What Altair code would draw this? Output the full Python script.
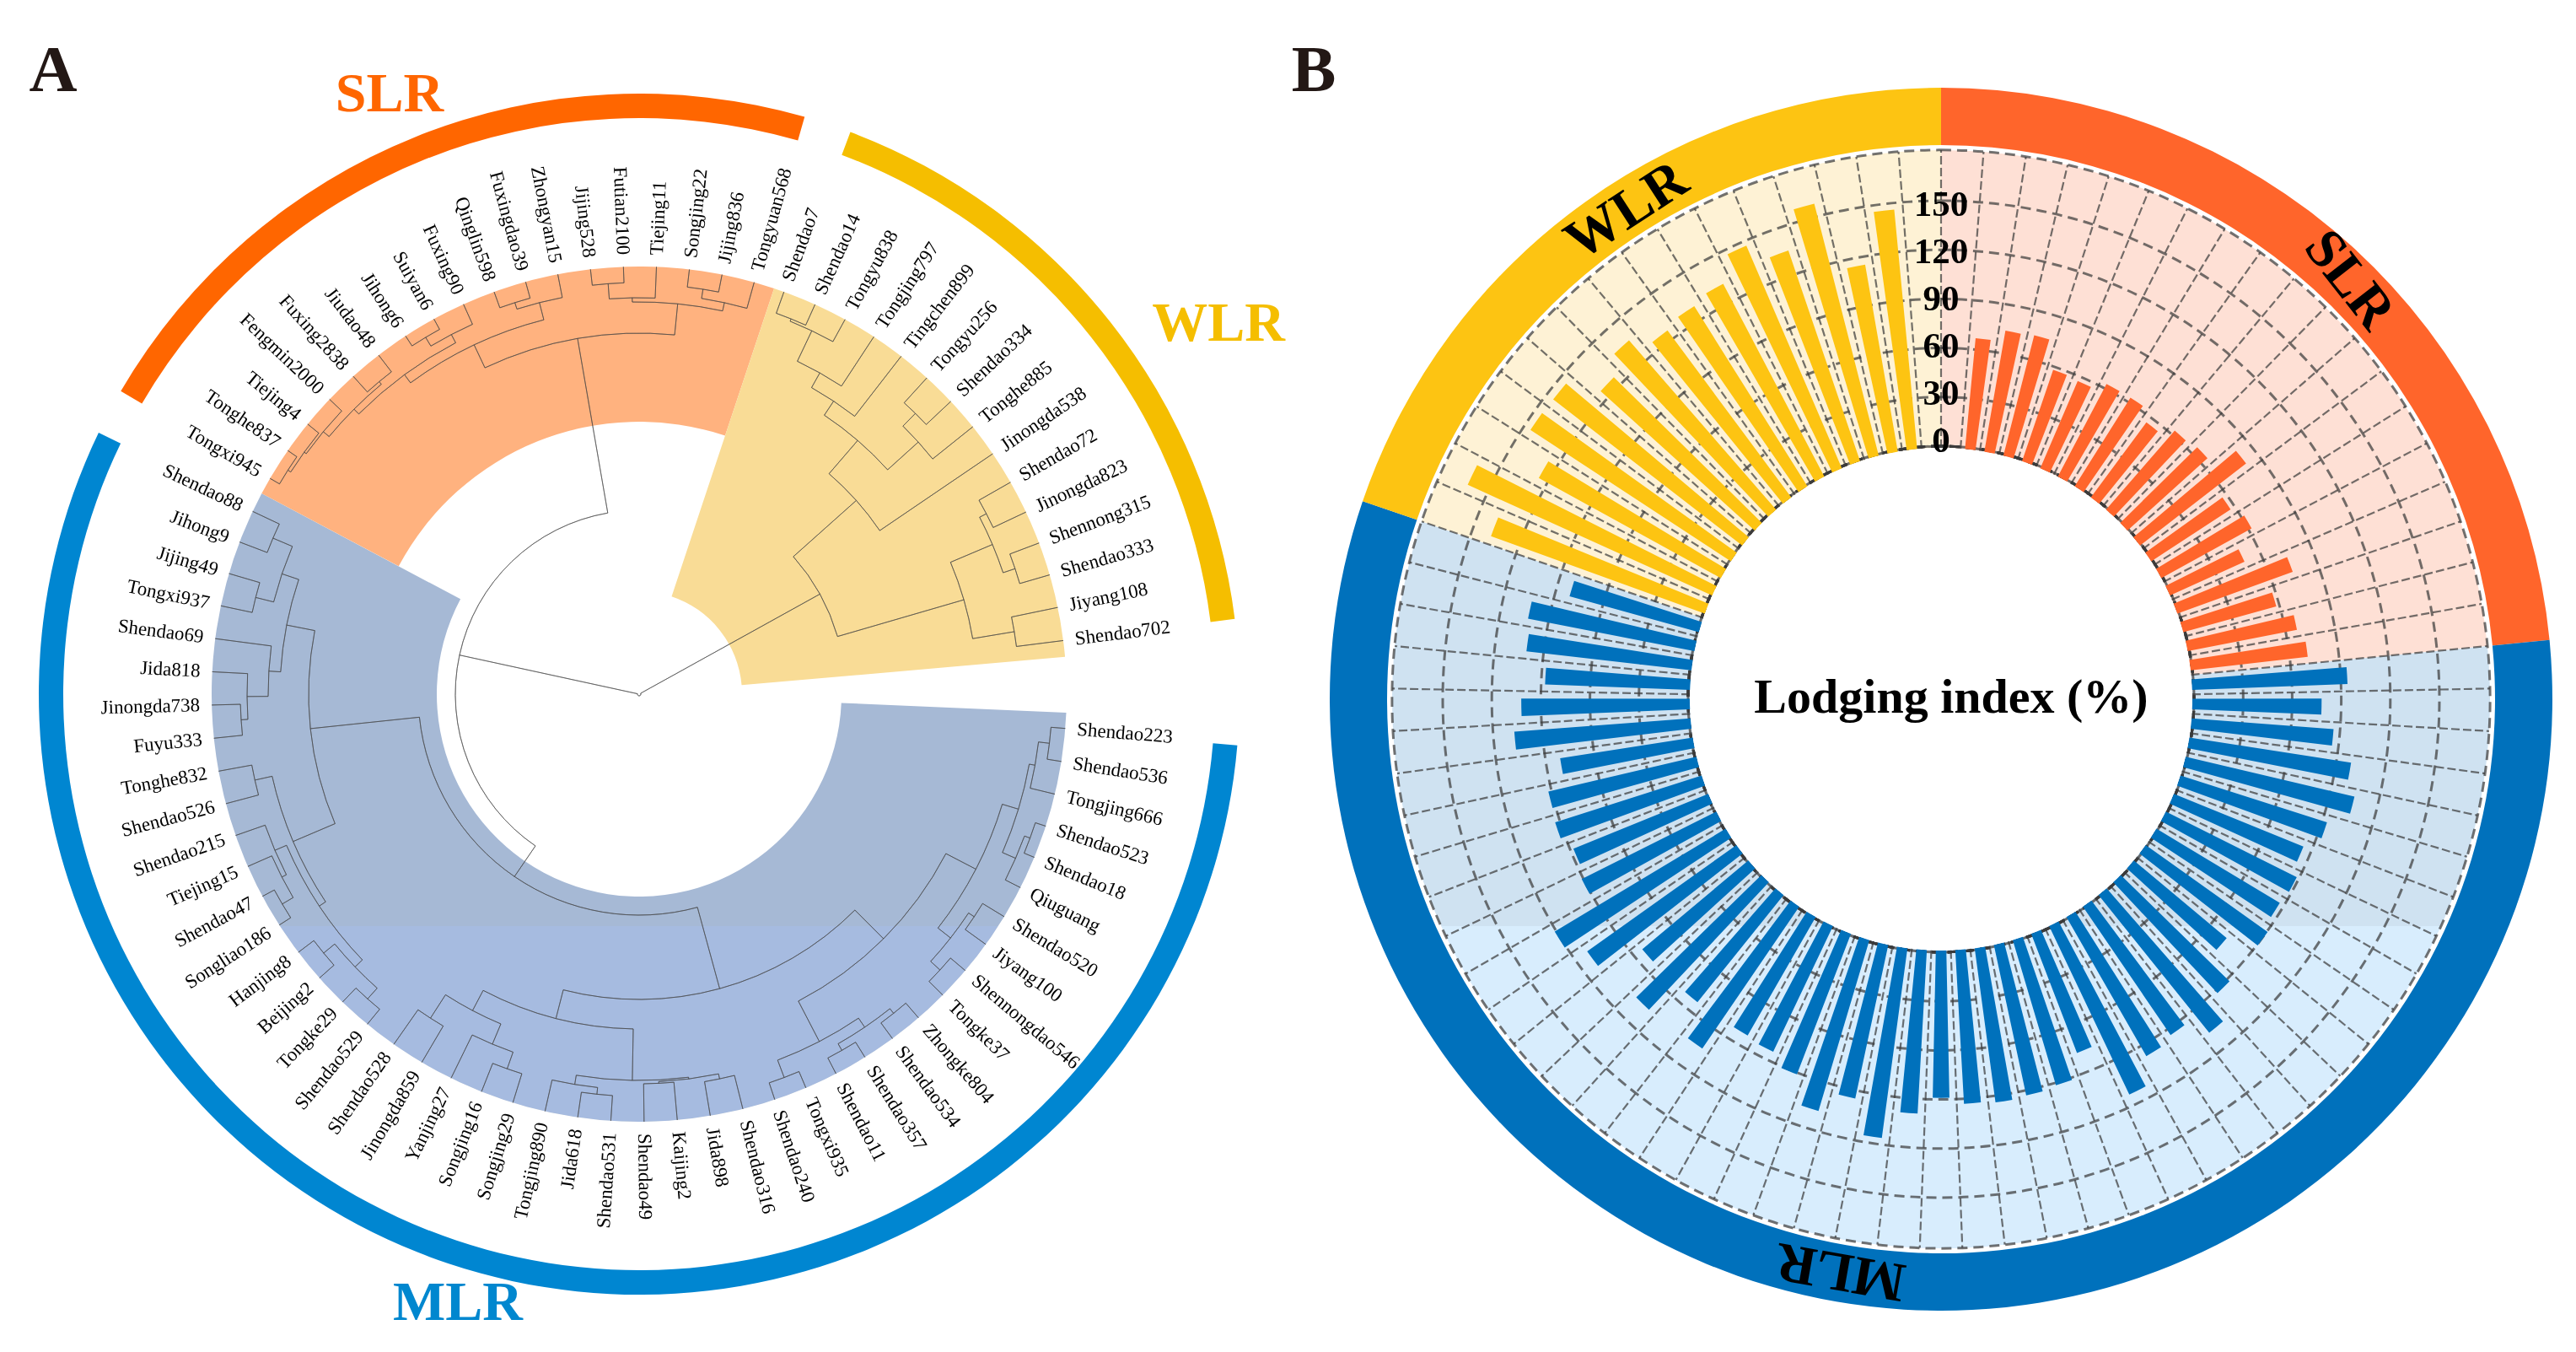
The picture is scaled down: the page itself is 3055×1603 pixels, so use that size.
import altair as alt
import pandas as pd
import math

# ---------- data ----------
WLR_names = ["Shendao7","Shendao14","Tongyu838","Tongjing797","Tingchen899","Tongyu256","Shendao334","Tonghe885","Jinongda538","Shendao72","Jinongda823","Shennong315","Shendao333","Jiyang108","Shendao702"]
MLR_names = ["Shendao223","Shendao536","Tongjing666","Shendao523","Shendao18","Qiuguang","Shendao520","Jiyang100","Shennongdao546","Tongke37","Zhongke804","Shendao534","Shendao357","Shendao11","Tongxi935","Shendao240","Shendao316","Jida898","Kaijing2","Shendao49","Shendao531","Jida618","Tongjing890","Songjing29","Songjing16","Yanjing27","Jinongda859","Shendao528","Shendao529","Tongke29","Beijing2","Hanjing8","Songliao186","Shendao47","Tiejing15","Shendao215","Shendao526","Tonghe832","Fuyu333","Jinongda738","Jida818","Shendao69","Tongxi937","Jijing49","Jihong9","Shendao88"]
SLR_names = ["Tongxi945","Tonghe837","Tiejing4","Fengmin2000","Fuxing2838","Jiudao48","Jihong6","Suiyan6","Fuxing90","Qinglin598","Fuxingdao39","Zhongyan15","Jijing528","Futian2100","Tiejing11","Songjing22","Jijing836","Tongyuan568"]

SLR_values = [67,74,75,58,57,63,63,56,63,65,81,57,62,49,74,58,67,71]
MLR_values = [94,78,86,99,105,93,84.5,88.5,87,90.5,73,92,107,94,97,113,77,91.5,93,94,93,89,99,116,95,108,91,84,82.5,104,83,106,83.5,111,121,91,88,93,92,81,107,102,87.6,100.5,102.6,81]
WLR_values = [138,163,126,145.5,145,126,136,126,129,132,147,135,158,115,146]
tick_values = [0,30,60,90,120,150]
grid_values = [0,30,60,90,120,150,181]

# dendrogram: (node radius, children...), leaves are (group, index)
def n(r, *kids): return (r, kids)
def W(i): return ("W", i)
def M(i): return ("M", i)
def S(i): return ("S", i)

wlr_tree = n(245,
    n(345,
      n(397,
        n(417, n(437, n(477, n(480,W(0),W(1)), W(2)), W(3)), W(4)),
        n(446, n(467,W(5),W(6)), W(7))),
      W(8)),
    n(401,
      n(455, n(464,W(9),W(10)), n(470,W(11),W(12))),
      n(451,W(13),W(14))))

slr_tree = n(428,
    n(458,
      n(470,
        n(478, n(487, n(490, n(494,S(0),S(1)), S(2)), S(3)), n(482,S(4),S(5))),
        n(481, n(493,S(6),S(7)), S(8))),
      n(479, n(487,S(9),S(10)), S(11))),
    n(465,
      n(470, n(488,S(12),S(13)), S(14)),
      n(475, n(486,S(15),S(16)), S(17))))

mlr_right = n(362,
    n(410,
      n(450,
        n(470, n(477, n(490,M(0),M(1)), M(2)), n(487, n(494,M(3),M(4)), M(5))),
        n(469, n(477,M(6),M(7)), n(484,M(8),M(9)))),
      n(464,
        n(477, n(484,M(10),M(11)), n(486,M(12),M(13))),
        n(486,M(14),M(15)))),
    n(397,
      n(458,
        n(460, n(466,M(16),M(17)), n(462,M(18),M(19))),
        n(469, n(477,M(20),M(21)), M(22))),
      n(424,
        n(450, n(471,M(23),M(24)), M(25)),
        n(457,M(26),M(27)))))

mlr_left = n(392,
    n(446,
      n(455,
        n(467, n(484,M(28),M(29)), n(484,M(30),M(31))),
        n(470, n(476, n(491,M(32),M(33)), M(34)), M(35))),
      n(467,M(36),M(37))),
    n(426,
      n(440, n(465, n(473,M(38),M(39)), M(40)), M(41)),
      n(447, n(469,M(42),M(43)), n(472,M(44),M(45)))))

tree = n(2, wlr_tree, n(218, n(262, mlr_right, mlr_left), slr_tree))

# ---------- layout (page pixels) ----------
W_PX, H_PX = 3039, 1587
ax, ay = 758, 823          # centre panel A
bx, by = 2302, 829         # centre panel B
TIP = 507
STEP = 360 / 81
THETA = alt.Scale(domain=[0, 360], range=[0, 6.283185307179586])
RAD_B = alt.Scale(domain=[0, 150], range=[300, 591], zero=False, nice=False)
SERIF = "Liberation Serif"

leaf_start = {"W": (19.8, 4.5), "M": (94.6, 4.46), "S": (300.3, 4.43)}
def leaf_angle(leaf):
    s, d = leaf_start[leaf[0]]
    return s + d * leaf[1]

segs = []
def walk(node):
    if isinstance(node[0], str):
        return leaf_angle(node), TIP
    r, kids = node
    res = [walk(k) for k in kids]
    angs = [a for a, _ in res]
    for a, cr in res:
        segs.append({"a1": a, "a2": a, "r1": r, "r2": cr})
    segs.append({"a1": min(angs), "a2": max(angs), "r1": r, "r2": r})
    return (min(angs) + max(angs)) / 2, r
walk(tree)
tree_df = pd.DataFrame(segs)

rows = []
for g, names in (("W", WLR_names), ("M", MLR_names), ("S", SLR_names)):
    for i, name in enumerate(names):
        a = leaf_angle((g, i))
        m = a % 360
        rows.append({"name": name, "a": a, "right": m < 180,
                     "rot": (m - 90) % 360 if m < 180 else (m + 90) % 360})
labels_df = pd.DataFrame(rows)

def arc_layer(df, cx, cy, **mark):
    return alt.Chart(df).mark_arc(**mark).encode(
        x=alt.value(cx - 8), y=alt.value(cy - 8),
        theta=alt.Theta("a1:Q", scale=THETA, stack=False), theta2="a2:Q",
        radius=alt.Radius("r1:Q", scale=None), radius2="r2:Q",
        color=alt.Color("c:N", scale=None))

def fixed_text(df, **mark):
    return alt.Chart(df).mark_text(font=SERIF, fontWeight="bold", **mark).encode(
        x=alt.X("x:Q", scale=alt.Scale(domain=[8, 8 + W_PX], nice=False, zero=False), axis=None),
        y=alt.Y("y:Q", scale=alt.Scale(domain=[8 + H_PX, 8], nice=False, zero=False), axis=None),
        text="t:N", color=alt.Color("c:N", scale=None))

# ---------- panel A ----------
a_fill = pd.DataFrame([
    {"a1": 92.5, "a2": 298, "r1": 240, "r2": 507, "c": "#A6B9D5"},
    {"a1": 298, "a2": 378.4, "r1": 323, "r2": 507, "c": "#FFB27F"},
    {"a1": 18.4, "a2": 85, "r1": 122, "r2": 507, "c": "#F9DC96"},
])
a_ring = pd.DataFrame([
    {"a1": 300.3, "a2": 376, "r1": 683, "r2": 712, "c": "#FF6600"},
    {"a1": 20.6, "a2": 82.8, "r1": 683, "r2": 712, "c": "#F5BE00"},
    {"a1": 94.9, "a2": 295.8, "r1": 683, "r2": 712, "c": "#0086D1"},
])
one = pd.DataFrame({"k": [0]})
a_band = alt.Chart(one).mark_rect(blend="lighten", color="#A2BBE0").encode(
    x=alt.value(0), x2=alt.value(1522), y=alt.value(1090), y2=alt.value(H_PX))
a_tree = alt.Chart(tree_df).mark_arc(fillOpacity=0, stroke="#454545", strokeOpacity=0.75, strokeWidth=0.8).encode(
    x=alt.value(ax - 8), y=alt.value(ay - 8),
    theta=alt.Theta("a1:Q", scale=THETA, stack=False), theta2="a2:Q",
    radius=alt.Radius("r1:Q", scale=None), radius2="r2:Q")

def leaf_text(df, align):
    return alt.Chart(df).mark_text(font=SERIF, fontSize=23, align=align, baseline="middle", color="#000000").encode(
        x=alt.value(ax - 8), y=alt.value(ay - 8),
        theta=alt.Theta("a:Q", scale=THETA, stack=False),
        radius=alt.Radius("r:Q", scale=None),
        angle=alt.Angle("rot:Q", scale=None),
        text="name:N")
labels_df["r"] = 521
a_labels_r = leaf_text(labels_df[labels_df.right], "left")
a_labels_l = leaf_text(labels_df[~labels_df.right], "right")

# ---------- panel B ----------
b_ring = pd.DataFrame([
    {"a1": 0, "a2": 19 * STEP, "r1": 657, "r2": 725, "c": "#FF652B"},
    {"a1": 19 * STEP, "a2": 65 * STEP, "r1": 657, "r2": 725, "c": "#0071BC"},
    {"a1": 65 * STEP, "a2": 360, "r1": 657, "r2": 725, "c": "#FDC412"},
])
b_bg = pd.DataFrame([
    {"a1": 0, "a2": 19 * STEP, "r1": 298, "r2": 651, "c": "#FEE0D5"},
    {"a1": 19 * STEP, "a2": 65 * STEP, "r1": 298, "r2": 651, "c": "#CFE2F1"},
    {"a1": 65 * STEP, "a2": 360, "r1": 298, "r2": 651, "c": "#FEF2D5"},
])
b_band = alt.Chart(one).mark_rect(blend="lighten", color="#D8EDFD").encode(
    x=alt.value(1522), x2=alt.value(W_PX), y=alt.value(1090), y2=alt.value(H_PX))

sp = []
for i in range(81):
    t = math.radians(i * STEP)
    sp.append({"x": bx + 298 * math.sin(t), "y": by - 298 * math.cos(t),
               "x2": bx + 651 * math.sin(t), "y2": by - 651 * math.cos(t)})
spokes = alt.Chart(pd.DataFrame(sp)).mark_rule(stroke="#3c3c3c", strokeOpacity=0.72, strokeWidth=2.2, strokeDash=[10, 4]).encode(
    x=alt.X("x:Q", scale=alt.Scale(domain=[8, 8 + W_PX], nice=False, zero=False), axis=None),
    y=alt.Y("y:Q", scale=alt.Scale(domain=[8 + H_PX, 8], nice=False, zero=False), axis=None),
    x2="x2:Q", y2="y2:Q")

grid_df = pd.DataFrame({"v": grid_values, "a1": 0, "a2": 360})
circles = alt.Chart(grid_df).mark_arc(fillOpacity=0, stroke="#3c3c3c", strokeOpacity=0.72, strokeWidth=3, strokeDash=[12, 7]).encode(
    x=alt.value(bx - 8), y=alt.value(by - 8),
    theta=alt.Theta("a1:Q", scale=THETA, stack=False), theta2="a2:Q",
    radius=alt.Radius("v:Q", scale=RAD_B))

bars = []
for start, vals, col in ((1, SLR_values, "#FF652B"), (19, MLR_values, "#0071BC"), (65, WLR_values, "#FDC412")):
    for i, v in enumerate(vals):
        mid = (start + i + 0.5) * STEP
        bars.append({"a1": mid - 1.2, "a2": mid + 1.2, "v": v, "base": -1, "c": col})
bar_layer = alt.Chart(pd.DataFrame(bars)).mark_arc().encode(
    x=alt.value(bx - 8), y=alt.value(by - 8),
    theta=alt.Theta("a1:Q", scale=THETA, stack=False), theta2="a2:Q",
    radius=alt.Radius("v:Q", scale=RAD_B), radius2="base:Q",
    color=alt.Color("c:N", scale=None))

# the tick labels sit a little tighter than the grid circles they name
tick_df = pd.DataFrame({"v": tick_values, "a": 0})
tick_df["r"] = 306 + tick_df["v"] * 1.87
ticks = alt.Chart(tick_df).mark_text(font=SERIF, fontWeight="bold", fontSize=43, color="#000000", baseline="middle", align="center").encode(
    x=alt.value(bx - 8), y=alt.value(by - 8),
    theta=alt.Theta("a:Q", scale=THETA, stack=False),
    radius=alt.Radius("r:Q", scale=None),
    text="v:N")

# ---------- free texts ----------
texts_plain = pd.DataFrame([
    {"x": 63, "y": 84, "t": "A", "c": "#231815"},
    {"x": 1558, "y": 84, "t": "B", "c": "#231815"},
])
texts_col = pd.DataFrame([
    {"x": 462, "y": 112, "t": "SLR", "c": "#FF6600"},
    {"x": 1445, "y": 384, "t": "WLR", "c": "#F5BE00"},
    {"x": 543, "y": 1545, "t": "MLR", "c": "#0087CF"},
])
lodging = pd.DataFrame([{"x": 2314, "y": 828, "t": "Lodging index (%)", "c": "#000000"}])
t_wlr = pd.DataFrame([{"x": 1929, "y": 250, "t": "WLR", "c": "#000000"}])
t_slr = pd.DataFrame([{"x": 2786, "y": 332, "t": "SLR", "c": "#000000"}])
t_mlr = pd.DataFrame([{"x": 2183, "y": 1507, "t": "MLR", "c": "#000000"}])

chart = alt.layer(
    arc_layer(a_fill, ax, ay),
    a_band,
    arc_layer(a_ring, ax, ay),
    a_tree,
    a_labels_r,
    a_labels_l,
    arc_layer(b_bg, bx, by),
    b_band,
    arc_layer(b_ring, bx, by),
    spokes,
    circles,
    bar_layer,
    ticks,
    fixed_text(texts_plain, fontSize=79, baseline="middle", align="center"),
    fixed_text(texts_col, fontSize=66, baseline="middle", align="center"),
    fixed_text(lodging, fontSize=58, baseline="middle", align="center"),
    fixed_text(t_wlr, fontSize=66, baseline="middle", align="center", angle=327),
    fixed_text(t_slr, fontSize=66, baseline="middle", align="center", angle=52),
    fixed_text(t_mlr, fontSize=66, baseline="middle", align="center", angle=190),
).properties(
    width=W_PX, height=H_PX, padding=0, background="#ffffff",
    autosize=alt.AutoSizeParams(type="none")
).configure_view(stroke=None)

chart.save("out.html", embed_options={"renderer": "svg", "actions": False})
